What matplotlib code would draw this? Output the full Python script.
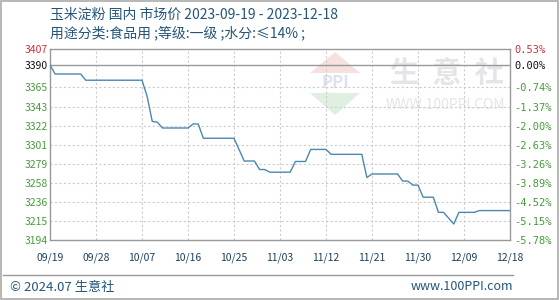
import matplotlib
matplotlib.use("Agg")
import matplotlib.pyplot as plt
from matplotlib.patches import Polygon, Rectangle
import pandas as pd

plt.rcParams['font.family'] = ['Noto Sans CJK SC', 'DejaVu Sans']

title_line1 = "玉米淀粉 国内 市场价 2023-09-19 - 2023-12-18"
title_line2 = "用途分类:食品用 ;等级:一级 ;水分:≤14% ;"

dates = ["2023-09-19", "2023-09-20", "2023-09-25", "2023-09-26", "2023-10-07",
         "2023-10-08", "2023-10-09", "2023-10-10", "2023-10-11", "2023-10-16",
         "2023-10-17", "2023-10-18", "2023-10-19", "2023-10-25", "2023-10-27",
         "2023-10-29", "2023-10-30", "2023-10-31", "2023-11-01", "2023-11-05",
         "2023-11-06", "2023-11-08", "2023-11-09", "2023-11-12", "2023-11-13",
         "2023-11-19", "2023-11-20", "2023-11-21", "2023-11-26", "2023-11-27",
         "2023-11-28", "2023-11-29", "2023-11-30", "2023-12-01", "2023-12-03",
         "2023-12-04", "2023-12-05", "2023-12-07", "2023-12-08", "2023-12-11",
         "2023-12-12", "2023-12-18"]
prices = [3390, 3380, 3380, 3373, 3373,
          3355, 3327, 3326, 3319.5, 3319.5,
          3324, 3324, 3308, 3308, 3282.5,
          3282.5, 3273, 3273, 3270, 3270,
          3282, 3282, 3295.5, 3295.5, 3290,
          3290, 3264, 3268, 3268, 3260,
          3260, 3255.5, 3255.5, 3242, 3242,
          3225, 3225, 3212, 3225, 3225,
          3227, 3227]

base_price = 3390
pct_labels = ["0.53%", "0.00%", "-0.74%", "-1.37%", "-2.00%", "-2.63%",
              "-3.26%", "-3.89%", "-4.52%", "-5.15%", "-5.78%"]
pct_values = [0.53, 0.00, -0.74, -1.37, -2.00, -2.63, -3.26, -3.89, -4.52, -5.15, -5.78]
price_labels = ["3407", "3390", "3365", "3343", "3322", "3301", "3279",
                "3258", "3236", "3215", "3194"]

x_tick_labels = ["09/19", "09/28", "10/07", "10/16", "10/25", "11/03",
                 "11/12", "11/21", "11/30", "12/09", "12/18"]
x_tick_dates = ["2023-09-19", "2023-09-28", "2023-10-07", "2023-10-16", "2023-10-25",
                "2023-11-03", "2023-11-12", "2023-11-21", "2023-11-30", "2023-12-09",
                "2023-12-18"]

dt = pd.to_datetime(dates)
xt = pd.to_datetime(x_tick_dates)
tick_pos = [base_price * (1 + p / 100.0) for p in pct_values]

fig = plt.figure(figsize=(5.6, 3.0), dpi=100)
fig.patch.set_facecolor('white')
ax = fig.add_axes([50 / 560, 60 / 300, 460 / 560, 191 / 300])

ax.set_xlim(xt[0], xt[-1])
ax.set_ylim(tick_pos[-1], tick_pos[0])

# grid
for x in xt[1:-1]:
    ax.axvline(x, color='#cccccc', lw=0.8, ls=(0, (2, 2)), zorder=1)
for y in tick_pos[2:-1]:
    ax.axhline(y, color='#cccccc', lw=0.8, ls=(0, (2, 2)), zorder=1)
ax.axhline(base_price, color='#999999', lw=1.0, zorder=1)

# watermark
wm_color = '#e3e5e9'
ax.text(0.863, 0.875, "生  意  社", transform=ax.transAxes, fontsize=21,
        color=wm_color, ha='center', va='center', fontweight='bold', zorder=0,
        family=['Noto Sans CJK SC', 'DejaVu Sans'])
ax.text(0.86, 0.707, "WWW.100PPI.COM", transform=ax.transAxes, fontsize=10,
        color=wm_color, ha='center', va='center', zorder=0)
logo_up = Polygon([[0.565, 0.874], [0.674, 0.874], [0.62, 0.984]], closed=True,
                  transform=ax.transAxes, facecolor='#f7e0e0', edgecolor='none', zorder=0)
logo_dn = Polygon([[0.565, 0.770], [0.674, 0.770], [0.62, 0.654]], closed=True,
                  transform=ax.transAxes, facecolor='#e0f0e0', edgecolor='none', zorder=0)
ax.add_patch(logo_up)
ax.add_patch(logo_dn)
ax.text(0.62, 0.82, "PPI", transform=ax.transAxes, fontsize=12, color='#dde3ee',
        ha='center', va='center', fontweight='bold', zorder=0)

ax.plot(dt, prices, color='#4a88b0', lw=1.0, zorder=3)

for s in ax.spines.values():
    s.set_color('#999999')
    s.set_linewidth(1.0)

ax.set_xticks(xt)
ax.set_xticklabels(x_tick_labels, fontsize=7.5, color='#1d3f5e')
ax.tick_params(axis='x', length=0, pad=9)

ax.set_yticks(tick_pos)
ax.set_yticklabels(price_labels, fontsize=7.5)
ax.tick_params(axis='y', length=0, pad=18)
for i, lab in enumerate(ax.get_yticklabels()):
    lab.set_ha('left')
    if i == 0:
        lab.set_color('#c8323c')
    elif i == 1:
        lab.set_color('#111111')
    else:
        lab.set_color('#4a9a3e')

ax2 = ax.twinx()
ax2.set_ylim(ax.get_ylim())
ax2.set_yticks(tick_pos)
ax2.set_yticklabels(pct_labels, fontsize=7.5, family='DejaVu Sans Mono')
ax2.tick_params(axis='y', length=0, pad=3)
for s in ax2.spines.values():
    s.set_visible(False)
for i, lab in enumerate(ax2.get_yticklabels()):
    if i == 0:
        lab.set_color('#c8323c')
    elif i == 1:
        lab.set_color('#111111')
    else:
        lab.set_color('#4a9a3e')

# titles
fig.text(50 / 560, 1 - 15 / 300, title_line1, fontsize=10, color='#24557a',
         ha='left', va='center')
fig.text(50 / 560, 1 - 33 / 300, title_line2, fontsize=10, color='#24557a',
         ha='left', va='center')

# footer
fig.add_artist(plt.Line2D([3 / 560, 513 / 560], [1 - 275 / 300, 1 - 275 / 300],
                          transform=fig.transFigure, color='#999999', lw=1.0))
fig.text(10 / 560, 1 - 287 / 300, "© 2024.07 生意社", fontsize=9.5, color='#24557a',
         ha='left', va='center')
fig.text(513 / 560, 1 - 287 / 300, "www.100PPI.com", fontsize=9, color='#24557a',
         ha='right', va='center')

fig.add_artist(Rectangle((0.002, 0.004), 0.995, 0.993, transform=fig.transFigure,
                         fill=False, edgecolor='#aaaaaa', lw=1.2))

fig.savefig("out.png", dpi=100)
